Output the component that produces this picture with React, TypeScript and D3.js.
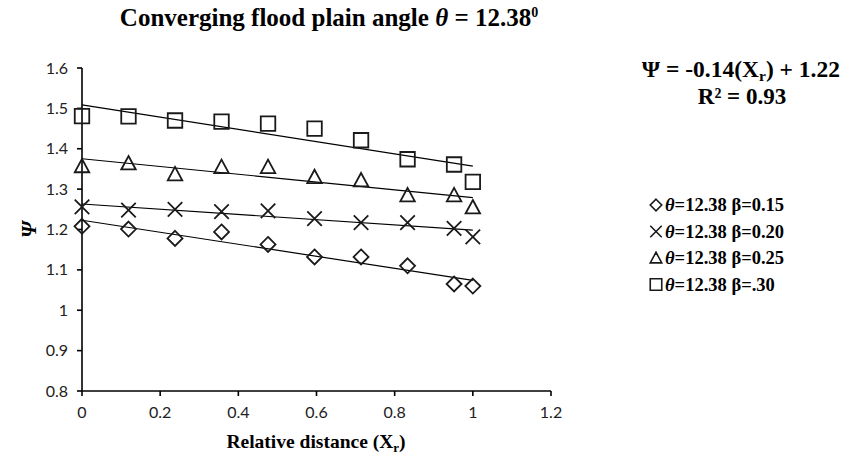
import React from "react";
import * as d3 from "d3";

const xValues = [0, 0.119, 0.238, 0.357, 0.476, 0.595, 0.714, 0.833, 0.952, 1.0];
const psiBeta015 = [1.208, 1.201, 1.178, 1.194, 1.163, 1.132, 1.132, 1.11, 1.065, 1.06];
const psiBeta020 = [1.256, 1.248, 1.25, 1.244, 1.246, 1.227, 1.217, 1.217, 1.203, 1.182];
const psiBeta025 = [1.357, 1.364, 1.337, 1.355, 1.355, 1.33, 1.322, 1.285, 1.285, 1.255];
const psiBeta030 = [1.481, 1.48, 1.47, 1.467, 1.462, 1.45, 1.421, 1.374, 1.361, 1.318];
const seriesValues = [psiBeta015, psiBeta020, psiBeta025, psiBeta030];
const seriesMarkers = ["diamond", "cross", "triangle", "square"];
const seriesLabels = ["=12.38 β=0.15", "=12.38 β=0.20", "=12.38 β=0.25", "=12.38 β=.30"];
const xTicks = [0, 0.2, 0.4, 0.6, 0.8, 1, 1.2];
const yTicks = [0.8, 0.9, 1, 1.1, 1.2, 1.3, 1.4, 1.5, 1.6];

function markerPath(kind: string, s: number): string {
  const h = s / 2;
  if (kind === "diamond") return `M0,${-h}L${h},0L0,${h}L${-h},0Z`;
  if (kind === "square") return `M${-h},${-h}H${h}V${h}H${-h}Z`;
  if (kind === "triangle") return `M0,${-h}L${h},${h * 0.85}L${-h},${h * 0.85}Z`;
  return `M${-h},${-h}L${h},${h}M${h},${-h}L${-h},${h}`;
}

function fit(xs: number[], ys: number[]) {
  const mx = d3.mean(xs) as number;
  const my = d3.mean(ys) as number;
  const sxy = d3.sum(xs, (x, i) => (x - mx) * (ys[i] - my));
  const sxx = d3.sum(xs, (x) => (x - mx) * (x - mx));
  const slope = sxy / sxx;
  return { slope, intercept: my - slope * mx };
}

export default function App() {
  const W = 845, H = 455;
  const x = d3.scaleLinear().domain([0, 1.2]).range([82, 551]);
  const y = d3.scaleLinear().domain([0.8, 1.6]).range([391, 68]);
  const serif = "'Liberation Serif', 'Times New Roman', serif";
  const sans = "Lato, 'Open Sans', sans-serif";
  const [x0, x1] = d3.extent(xValues) as [number, number];

  return (
    <svg width={W} height={H} style={{ position: "absolute", left: 0, top: 0, background: "#fff" }}>
      <rect width={W} height={H} fill="#fff" />
      {/* title */}
      <text x={329} y={26} textAnchor="middle" fontFamily={serif} fontWeight="bold" fontSize={25} fill="#000">
        Converging flood plain angle <tspan fontStyle="italic">θ</tspan> = 12.38
        <tspan fontSize={14} dy={-9}>0</tspan>
      </text>

      {/* axes */}
      <g stroke="#000" strokeWidth={1.6} fill="none">
        <line x1={x(0)} x2={x(1.2)} y1={y(0.8)} y2={y(0.8)} />
        <line x1={x(0)} x2={x(0)} y1={y(0.8)} y2={y(1.6)} />
        {xTicks.map((t) => (
          <line key={"xt" + t} x1={x(t)} x2={x(t)} y1={y(0.8)} y2={y(0.8) + 5} />
        ))}
        {yTicks.map((t) => (
          <line key={"yt" + t} x1={x(0) - 5} x2={x(0)} y1={y(t)} y2={y(t)} />
        ))}
      </g>
      <g fontFamily={sans} fontSize={16} fill="#222">
        {xTicks.map((t) => (
          <text key={"xl" + t} x={x(t)} y={y(0.8) + 27} textAnchor="middle">{String(t)}</text>
        ))}
        {yTicks.map((t) => (
          <text key={"yl" + t} x={x(0) - 14} y={y(t) + 5.5} textAnchor="end">{String(t)}</text>
        ))}
      </g>

      {/* axis titles */}
      <text x={316} y={448} textAnchor="middle" fontFamily={serif} fontWeight="bold" fontSize={19.5} fill="#000">
        Relative distance (X<tspan fontSize={13} dy={4}>r</tspan><tspan dy={-4}>)</tspan>
      </text>
      <text transform={`translate(36,${y(1.2)}) rotate(-90)`} textAnchor="middle" fontFamily={serif} fontWeight="bold" fontStyle="italic" fontSize={21} fill="#000">
        Ψ
      </text>

      {/* trend lines */}
      <g stroke="#000" strokeWidth={1.2}>
        {seriesValues.map((vals, i) => {
          const f = fit(xValues, vals);
          return (
            <line key={"fit" + i} x1={x(x0)} y1={y(f.intercept + f.slope * x0)} x2={x(x1)} y2={y(f.intercept + f.slope * x1)} />
          );
        })}
      </g>

      {/* markers */}
      <g stroke="#1a1a1a" strokeWidth={1.8} fill="none">
        {seriesValues.map((vals, i) =>
          vals.map((v, j) => (
            <path key={`m${i}-${j}`} d={markerPath(seriesMarkers[i], seriesMarkers[i] === "diamond" ? 15 : 14.5)} transform={`translate(${x(xValues[j])},${y(v)})`} />
          ))
        )}
      </g>

      {/* equation */}
      <text x={840} y={77} textAnchor="end" fontFamily={serif} fontWeight="bold" fontSize={23.5} fill="#000">
        Ψ = -0.14(X<tspan fontSize={15.5} dy={4}>r</tspan><tspan dy={-4}>) + 1.22</tspan>
      </text>
      <text x={742} y={104} textAnchor="middle" fontFamily={serif} fontWeight="bold" fontSize={23} fill="#000">
        R² = 0.93
      </text>

      {/* legend */}
      {seriesLabels.map((lab, i) => {
        const cy = 211 + i * 26.5;
        return (
          <g key={"lg" + i}>
            <path d={markerPath(seriesMarkers[i], 11.5)} transform={`translate(656,${cy - 6})`} stroke="#1a1a1a" strokeWidth={1.6} fill="none" />
            <text x={665} y={cy} fontFamily={serif} fontWeight="bold" fontSize={18.5} fill="#000">
              <tspan fontStyle="italic">θ</tspan>{lab}
            </text>
          </g>
        );
      })}
    </svg>
  );
}
